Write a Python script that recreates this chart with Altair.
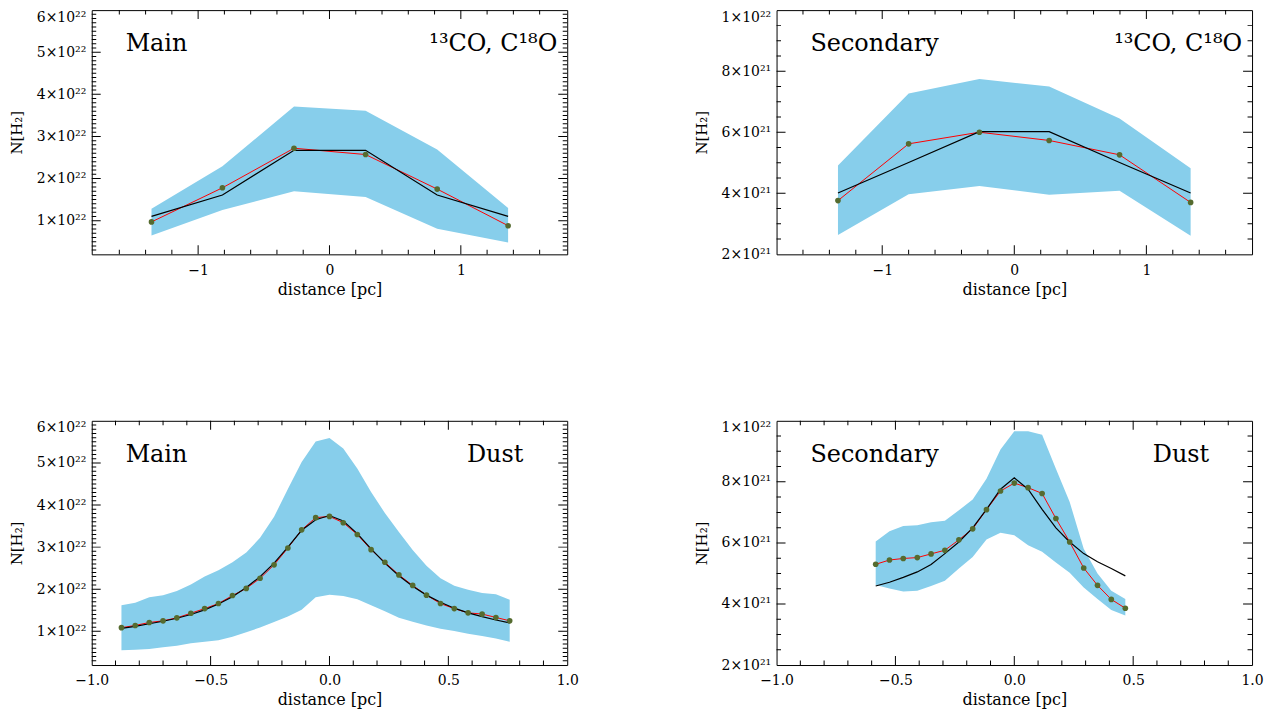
import altair as alt
import pandas as pd

FONT = "DejaVu Serif"

# ---------------- data (column density in cm^-2, distance in pc) ----------------
# Top-left: Main, 13CO / C18O
co_main_x = [-1.355, -0.815, -0.27, 0.275, 0.82, 1.36]
co_main_obs = [0.97e22, 1.78e22, 2.72e22, 2.57e22, 1.75e22, 0.88e22]
co_main_fit = [1.10e22, 1.61e22, 2.67e22, 2.67e22, 1.61e22, 1.10e22]
co_main_hi = [1.28e22, 2.29e22, 3.71e22, 3.61e22, 2.69e22, 1.30e22]
co_main_lo = [0.65e22, 1.25e22, 1.70e22, 1.56e22, 0.81e22, 0.48e22]

# Top-right: Secondary, 13CO / C18O
co_sec_x = [-1.335, -0.80, -0.264, 0.264, 0.797, 1.335]
co_sec_obs = [3.76e21, 5.62e21, 6.00e21, 5.73e21, 5.26e21, 3.70e21]
co_sec_fit = [4.01e21, 5.01e21, 6.02e21, 6.02e21, 5.01e21, 4.01e21]
co_sec_hi = [4.91e21, 7.27e21, 7.74e21, 7.50e21, 6.45e21, 4.82e21]
co_sec_lo = [2.63e21, 3.97e21, 4.24e21, 3.95e21, 4.08e21, 2.61e21]

# Bottom-left: Main, Dust
dust_main_x = [-0.875, -0.817, -0.758, -0.700, -0.642, -0.583, -0.525, -0.467,
               -0.408, -0.350, -0.292, -0.233, -0.175, -0.117, -0.058, 0.0,
               0.058, 0.117, 0.175, 0.233, 0.292, 0.350, 0.408, 0.467, 0.525,
               0.583, 0.642, 0.700, 0.758]
dust_main_obs = [1.087, 1.14, 1.21, 1.25, 1.32, 1.43, 1.54, 1.66, 1.85, 2.02,
                 2.26, 2.58, 2.98, 3.41, 3.70, 3.73, 3.58, 3.30, 2.94, 2.64,
                 2.34, 2.09, 1.86, 1.66, 1.54, 1.44, 1.41, 1.33, 1.25]
dust_main_fit = [1.07, 1.12, 1.18, 1.24, 1.31, 1.40, 1.51, 1.65, 1.82, 2.04,
                 2.30, 2.62, 3.00, 3.40, 3.65, 3.75, 3.62, 3.32, 2.96, 2.62,
                 2.32, 2.07, 1.86, 1.69, 1.55, 1.44, 1.35, 1.27, 1.20]
dust_main_hi = [1.62, 1.68, 1.81, 1.86, 1.96, 2.11, 2.30, 2.45, 2.64, 2.87,
                3.22, 3.72, 4.38, 5.02, 5.51, 5.59, 5.34, 4.87, 4.31, 3.81,
                3.36, 2.93, 2.56, 2.26, 2.08, 1.99, 1.91, 1.88, 1.75]
dust_main_lo = [0.55, 0.56, 0.58, 0.62, 0.66, 0.72, 0.75, 0.79, 0.87, 0.98,
                1.09, 1.22, 1.35, 1.51, 1.81, 1.87, 1.84, 1.76, 1.62, 1.48,
                1.32, 1.23, 1.14, 1.06, 1.01, 0.94, 0.89, 0.83, 0.75]

# Bottom-right: Secondary, Dust
dust_sec_x = [-0.583, -0.525, -0.467, -0.408, -0.350, -0.292, -0.233, -0.175,
              -0.117, -0.058, 0.0, 0.058, 0.117, 0.175, 0.233, 0.292, 0.350,
              0.408, 0.467]
dust_sec_obs = [5.30, 5.44, 5.49, 5.52, 5.64, 5.76, 6.10, 6.46, 7.09, 7.70,
                7.96, 7.81, 7.62, 6.80, 6.03, 5.18, 4.61, 4.15, 3.86]
dust_sec_fit = [4.59, 4.71, 4.87, 5.05, 5.29, 5.65, 6.03, 6.49, 7.10, 7.76,
                8.13, 7.76, 7.10, 6.49, 6.03, 5.65, 5.38, 5.16, 4.92]
dust_sec_hi = [6.05, 6.38, 6.55, 6.58, 6.68, 6.73, 7.07, 7.42, 8.10, 9.06,
               9.66, 9.66, 9.54, 8.43, 7.34, 5.81, 5.00, 4.43, 4.16]
dust_sec_lo = [4.62, 4.51, 4.41, 4.43, 4.59, 4.76, 5.16, 5.54, 6.11, 6.33,
               6.25, 5.92, 5.71, 5.36, 5.02, 4.54, 4.16, 3.80, 3.62]

# unit multipliers of the dust tables
DUST_MAIN_UNIT = 1e22
DUST_SEC_UNIT = 1e21

# axis tick values
x_major_wide = [-1, 0, 1]
x_minor_wide = [-1.6, -1.4, -1.2, -0.8, -0.6, -0.4, -0.2, 0.2, 0.4, 0.6, 0.8, 1.2, 1.4, 1.6]
x_major_narrow = [-1.0, -0.5, 0.0, 0.5, 1.0]
x_minor_narrow = [-0.9, -0.8, -0.7, -0.6, -0.4, -0.3, -0.2, -0.1, 0.1, 0.2, 0.3, 0.4,
                  0.6, 0.7, 0.8, 0.9]
y_major_main = [1e22, 2e22, 3e22, 4e22, 5e22, 6e22]
y_minor_main = [k * 1e21 for k in range(3, 60) if k % 10 != 0]
y_major_sec = [2e21, 4e21, 6e21, 8e21, 1e22]
y_minor_sec = [k * 5e20 for k in range(5, 20) if k % 4 != 0]

W, H = 477, 245
SKY = "#87CEEB"
GREEN = "#556B2F"

LABEL_MAIN = "format(datum.value/1e22, 'd') + '×10²²'"
LABEL_SEC = "datum.value > 9.9e21 ? '1×10²²' : format(round(datum.value/1e21), 'd') + '×10²¹'"


def panel(x, obs, fit, lo, hi, xdom, ydom, xmaj, xmin, ymaj, ymin, xfmt, ylabexpr,
          left_text, right_text, right_dx):
    df = pd.DataFrame({"x": x, "obs": obs, "fit": fit, "lo": lo, "hi": hi})
    xs = alt.Scale(domain=xdom, nice=False, zero=False)
    ys = alt.Scale(domain=ydom, nice=False, zero=False)
    base = alt.Chart(df)
    xaxis = alt.Axis(values=xmaj, format=xfmt, title="distance [pc]", ticks=False,
                     domain=False, grid=False, labelFont=FONT, labelFontSize=14,
                     labelColor="black", labelFlush=False, labelOverlap=False,
                     labelPadding=9, titleFont=FONT, titleFontSize=16,
                     titleFontWeight="normal", titleColor="black", titlePadding=4)
    top_test = "datum.value >= %g" % (ydom[1] * 0.999)
    yaxis = alt.Axis(values=ymaj, labelExpr=ylabexpr, title="N[H₂]", ticks=False,
                     domain=False, grid=False, labelFont=FONT, labelFontSize=14,
                     labelColor="black", labelFlush=False, labelOverlap=False,
                     labelBaseline={"condition": {"test": top_test, "value": "top"},
                                    "value": "middle"},
                     labelPadding=6, titleFont=FONT, titleFontSize=15,
                     titleFontWeight="normal", titleColor="black", titlePadding=12)
    band = base.mark_area(color=SKY, opacity=1).encode(
        x=alt.X("x:Q", scale=xs, axis=xaxis),
        y=alt.Y("lo:Q", scale=ys, axis=yaxis),
        y2="hi:Q",
    )
    obsline = base.mark_line(color="red", strokeWidth=1).encode(x="x:Q", y="obs:Q")
    fitline = base.mark_line(color="black", strokeWidth=1.2).encode(x="x:Q", y="fit:Q")
    pts = base.mark_circle(color=GREEN, size=32, opacity=1).encode(x="x:Q", y="obs:Q")

    # inward IDL-style ticks on all four sides
    vt = []
    for v in xmaj:
        if xdom[0] < v < xdom[1]:
            vt += [{"x": v, "lo": ydom[0], "len": 18}, {"x": v, "lo": ydom[1], "len": 18}]
    for v in xmin:
        vt += [{"x": v, "lo": ydom[0], "len": 9}, {"x": v, "lo": ydom[1], "len": 9}]
    ht = []
    for v in ymaj:
        if ydom[0] < v < ydom[1]:
            ht += [{"x": xdom[0], "lo": v, "len": 18}, {"x": xdom[1], "lo": v, "len": 18}]
    for v in ymin:
        ht += [{"x": xdom[0], "lo": v, "len": 9}, {"x": xdom[1], "lo": v, "len": 9}]
    vticks = alt.Chart(pd.DataFrame(vt)).mark_tick(
        orient="vertical", clip=True, color="black", thickness=1, opacity=1).encode(
        x="x:Q", y="lo:Q", size=alt.Size("len:Q", scale=None, legend=None))
    hticks = alt.Chart(pd.DataFrame(ht)).mark_tick(
        orient="horizontal", clip=True, color="black", thickness=1, opacity=1).encode(
        x="x:Q", y="lo:Q", size=alt.Size("len:Q", scale=None, legend=None))

    txt_l = alt.Chart(pd.DataFrame({"t": [left_text]})).mark_text(
        font=FONT, fontSize=24, align="left", baseline="alphabetic", color="black").encode(
        text="t:N", x=alt.value(34), y=alt.value(41))
    txt_r = alt.Chart(pd.DataFrame({"t": [right_text]})).mark_text(
        font=FONT, fontSize=24, align="right", baseline="alphabetic", color="black").encode(
        text="t:N", x=alt.value(W - right_dx), y=alt.value(41))

    return alt.layer(band, obsline, fitline, pts, vticks, hticks, txt_l, txt_r).properties(
        width=W, height=H)


p1 = panel(co_main_x, co_main_obs, co_main_fit, co_main_lo, co_main_hi,
           [-1.81, 1.81], [2e21, 6e22], x_major_wide, x_minor_wide,
           y_major_main, y_minor_main, "d", LABEL_MAIN, "Main", "¹³CO, C¹⁸O", 10)
p2 = panel(co_sec_x, co_sec_obs, co_sec_fit, co_sec_lo, co_sec_hi,
           [-1.8, 1.8], [2e21, 1e22], x_major_wide, x_minor_wide,
           y_major_sec, y_minor_sec, "d", LABEL_SEC, "Secondary", "¹³CO, C¹⁸O", 10)
p3 = panel(dust_main_x, [v * DUST_MAIN_UNIT for v in dust_main_obs],
           [v * DUST_MAIN_UNIT for v in dust_main_fit],
           [v * DUST_MAIN_UNIT for v in dust_main_lo],
           [v * DUST_MAIN_UNIT for v in dust_main_hi],
           [-1.0, 1.0], [2e21, 6e22], x_major_narrow, x_minor_narrow,
           y_major_main, y_minor_main, ".1f", LABEL_MAIN, "Main", "Dust", 44)
p4 = panel(dust_sec_x, [v * DUST_SEC_UNIT for v in dust_sec_obs],
           [v * DUST_SEC_UNIT for v in dust_sec_fit],
           [v * DUST_SEC_UNIT for v in dust_sec_lo],
           [v * DUST_SEC_UNIT for v in dust_sec_hi],
           [-1.0, 1.0], [2e21, 1e22], x_major_narrow, x_minor_narrow,
           y_major_sec, y_minor_sec, ".1f", LABEL_SEC, "Secondary", "Dust", 43)

chart = alt.vconcat(
    alt.hconcat(p1, p2, spacing=210, bounds="flush"),
    alt.hconcat(p3, p4, spacing=210, bounds="flush"),
    spacing=122,
).configure_view(stroke="black", strokeWidth=1).properties(
    padding={"left": 0, "top": 0, "right": 0, "bottom": 0},
    background="white",
)

chart.save("out.html", embed_options={"renderer": "svg", "actions": False})
